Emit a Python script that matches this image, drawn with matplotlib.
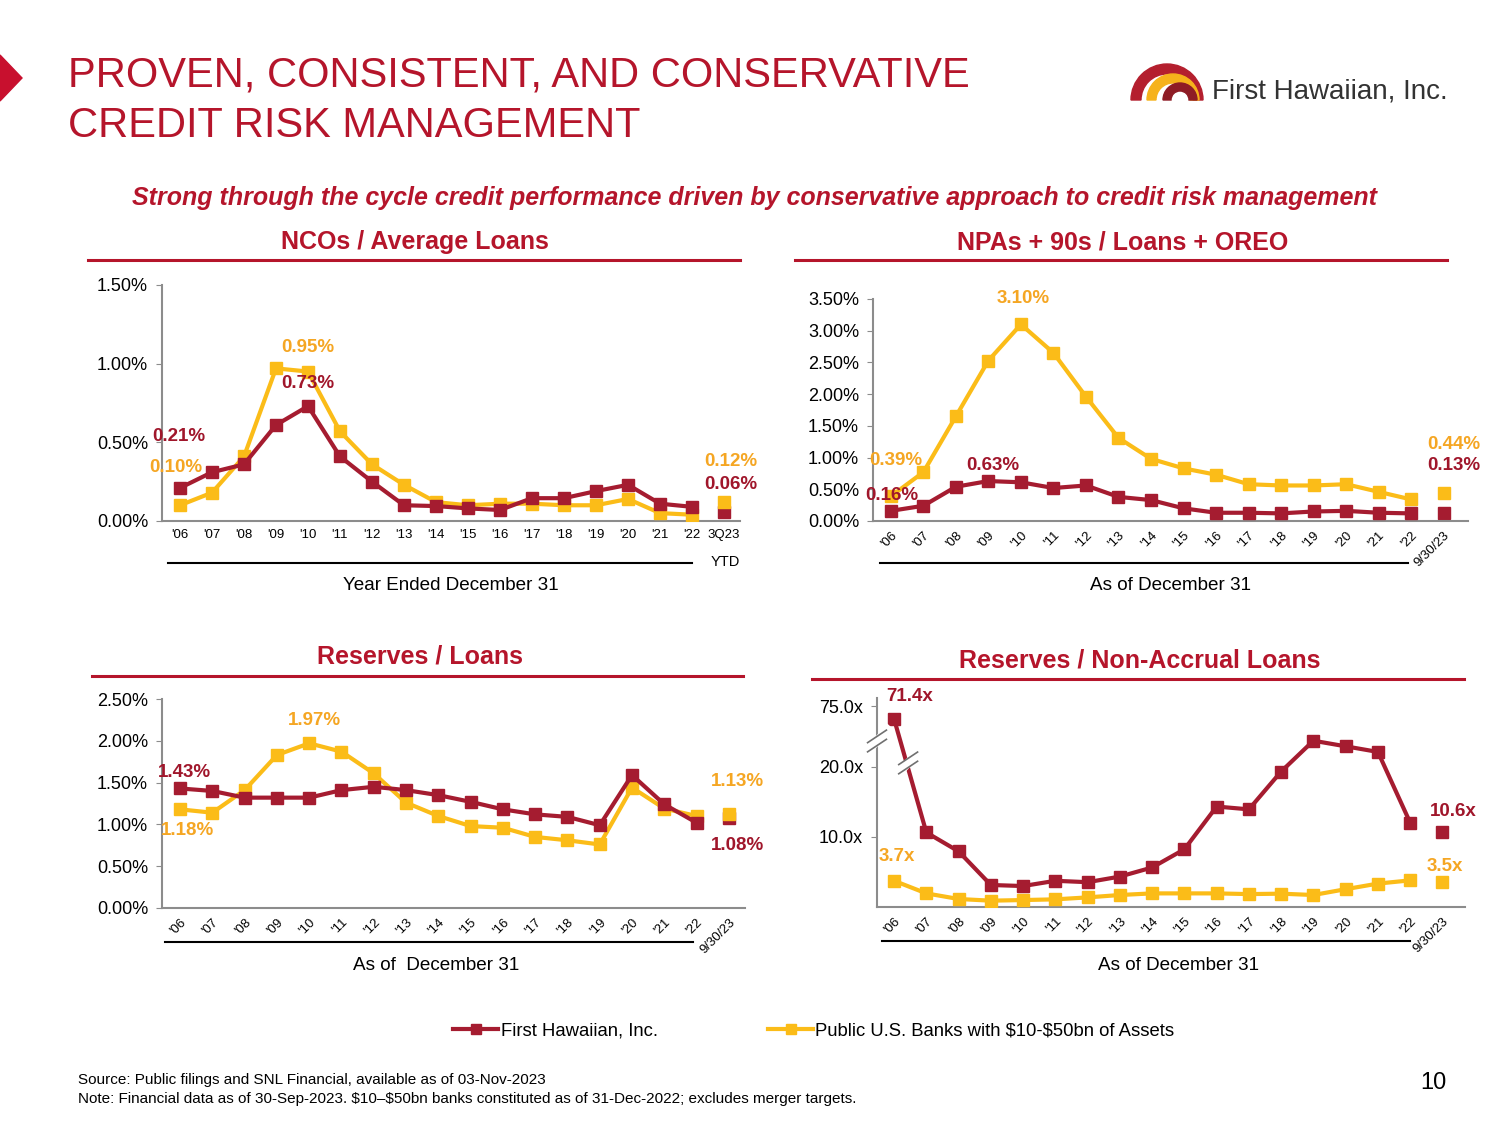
import numpy as np
import matplotlib
matplotlib.use("Agg")
import matplotlib.pyplot as plt
from matplotlib.lines import Line2D
from matplotlib.patches import Polygon, Wedge

plt.rcParams["font.family"] = ["Liberation Sans", "DejaVu Sans"]

RED = "#A51C30"
YEL = "#FBBC18"
RED_TXT = "#A0162B"
YEL_TXT = "#F5A623"
TITLE_RED = "#B5152B"
GRAY = "#8C8C8C"

# ---- data ----
years = ["'06", "'07", "'08", "'09", "'10", "'11", "'12", "'13", "'14",
         "'15", "'16", "'17", "'18", "'19", "'20", "'21", "'22"]
nco_labels = years + ["3Q23"]
asof_labels = years + ["9/30/23"]

nco_fhi = [0.21, 0.31, 0.36, 0.61, 0.73, 0.41, 0.25, 0.10, 0.095, 0.08, 0.07,
           0.145, 0.145, 0.19, 0.23, 0.11, 0.09, 0.06]
nco_peer = [0.10, 0.18, 0.41, 0.97, 0.95, 0.57, 0.36, 0.23, 0.12, 0.10, 0.11,
            0.11, 0.10, 0.10, 0.14, 0.05, 0.04, 0.12]

npa_fhi = [0.16, 0.24, 0.54, 0.63, 0.61, 0.52, 0.56, 0.38, 0.33, 0.20, 0.13,
           0.13, 0.12, 0.15, 0.16, 0.13, 0.12, 0.13]
npa_peer = [0.39, 0.77, 1.65, 2.53, 3.10, 2.65, 1.96, 1.31, 0.98, 0.83, 0.73,
            0.58, 0.56, 0.56, 0.58, 0.46, 0.34, 0.44]

res_fhi = [1.43, 1.40, 1.32, 1.32, 1.32, 1.41, 1.45, 1.41, 1.35, 1.27, 1.18,
           1.12, 1.09, 0.99, 1.59, 1.24, 1.02, 1.08]
res_peer = [1.18, 1.14, 1.41, 1.83, 1.97, 1.87, 1.61, 1.26, 1.10, 0.98, 0.96,
            0.85, 0.81, 0.76, 1.44, 1.19, 1.10, 1.13]

nal_fhi = [71.4, 10.6, 7.9, 3.1, 2.95, 3.7, 3.5, 4.3, 5.6, 8.2, 14.3, 13.9,
           19.3, 23.7, 22.9, 22.1, 12.0, 10.6]
nal_peer = [3.7, 1.9, 1.1, 0.86, 0.95, 1.05, 1.33, 1.67, 1.9, 1.9, 1.9, 1.8,
            1.86, 1.67, 2.5, 3.3, 3.76, 3.5]

W, H = 1500, 1125
fig = plt.figure(figsize=(15, 11.25), dpi=100)


def fx(x):
    return x / W


def fy(y):
    return 1 - y / H


def ftext(x, y, s, **kw):
    fig.text(fx(x), fy(y), s, **kw)


def fline(x0, x1, y, color="black", lw=1.5):
    fig.add_artist(Line2D([fx(x0), fx(x1)], [fy(y), fy(y)], color=color, lw=lw))


def make_ax(left, top, right, bottom):
    ax = fig.add_axes([fx(left), fy(bottom), fx(right - left), (bottom - top) / H])
    for s in ["top", "right"]:
        ax.spines[s].set_visible(False)
    for s in ["left", "bottom"]:
        ax.spines[s].set_color(GRAY)
        ax.spines[s].set_linewidth(1.5)
    ax.tick_params(axis="y", length=4, color=GRAY, labelsize=13, pad=6)
    ax.tick_params(axis="x", length=0, labelsize=9.5, pad=6)
    ax.patch.set_alpha(0)
    return ax


def draw_series(ax, fhi, peer):
    n = len(years)
    x = np.arange(len(fhi))
    ax.plot(x[:n], peer[:n], color=YEL, lw=3, marker="s", ms=8, zorder=3)
    ax.plot(x[n:], peer[n:], color=YEL, lw=0, marker="s", ms=8, zorder=3)
    ax.plot(x[:n], fhi[:n], color=RED, lw=3, marker="s", ms=8, zorder=4)
    ax.plot(x[n:], fhi[n:], color=RED, lw=0, marker="s", ms=8, zorder=2)


def label(ax, i, v, s, dx, dy, color):
    ax.annotate(s, xy=(i, v), xytext=(dx, dy), textcoords="offset pixels",
                ha="center", va="center", fontsize=13.5, fontweight="bold",
                color=color, zorder=6)


def pct(v):
    return f"{v:.2f}%"


def rot_labels(ax, labels):
    ax.set_xticks(range(len(labels)))
    ax.set_xticklabels(labels, rotation=45, ha="right", va="top",
                       rotation_mode="anchor", fontsize=9.5)


# ---- header ----
fig.add_artist(Polygon([[fx(0), fy(55)], [fx(22), fy(78)], [fx(0), fy(101)]],
                       closed=True, color="#C8102E", transform=fig.transFigure))
ftext(68, 76, "PROVEN, CONSISTENT, AND CONSERVATIVE", fontsize=30,
      color=TITLE_RED, va="center")
ftext(68, 126, "CREDIT RISK MANAGEMENT", fontsize=30, color=TITLE_RED, va="center")

logo = fig.add_axes([fx(1128), fy(104), fx(80), 42 / H])
logo.set_xlim(1128, 1208)
logo.set_ylim(0, 42)
logo.set_aspect("equal")
logo.axis("off")
logo.add_patch(Wedge((1167, 4), 36, 0, 180, width=10, color="#B41F2E"))
logo.add_patch(Wedge((1173, 4), 26, 0, 180, width=9, color="#F6B21B"))
logo.add_patch(Wedge((1180, 4), 17, 0, 180, width=8, color="#8E1C25"))
ftext(1212, 92, "First Hawaiian, Inc.", fontsize=20, color="#333333",
      va="center")

ftext(755, 198, "Strong through the cycle credit performance driven by conservative "
      "approach to credit risk management", fontsize=18, color=TITLE_RED,
      ha="center", va="center", fontweight="bold", style="italic")

# panel titles
for cx, cy, ly, x0, x1, t in [(415, 242, 260, 88, 740, "NCOs / Average Loans"),
                              (1123, 242, 260, 795, 1447, "NPAs + 90s / Loans + OREO"),
                              (420, 657, 676, 92, 743, "Reserves / Loans"),
                              (1140, 660, 679, 812, 1464, "Reserves / Non-Accrual Loans")]:
    ftext(cx, cy, t, fontsize=18, color=TITLE_RED, ha="center", va="center",
          fontweight="bold")
    fline(x0, x1, ly, color=TITLE_RED, lw=2.2)

# ---- panel 1: NCOs ----
ax1 = make_ax(162, 285, 740, 521)
draw_series(ax1, nco_fhi, nco_peer)
ax1.set_xlim(-0.5625, 17.5)
ax1.set_ylim(0, 1.5)
ax1.set_yticks([0, 0.5, 1.0, 1.5])
ax1.set_yticklabels([pct(v) for v in [0, 0.5, 1.0, 1.5]])
ax1.set_xticks(range(len(nco_labels)))
ax1.set_xticklabels(nco_labels, fontsize=9.5)
label(ax1, 0, nco_fhi[0], pct(nco_fhi[0]), -1, 51, RED_TXT)
label(ax1, 0, nco_peer[0], pct(nco_peer[0]), -4, 38, YEL_TXT)
label(ax1, 4, nco_peer[4], pct(nco_peer[4]), 0, 24, YEL_TXT)
label(ax1, 4, nco_fhi[4], pct(nco_fhi[4]), 0, 23, RED_TXT)
label(ax1, 17, nco_peer[17], pct(nco_peer[17]), 7, 41, YEL_TXT)
label(ax1, 17, nco_fhi[17], pct(nco_fhi[17]), 7, 27, RED_TXT)
fline(168, 692, 563)
ftext(725, 562, "YTD", fontsize=10.5, ha="center", va="center")
ftext(451, 586, "Year Ended December 31", fontsize=13.6, ha="center", va="center")

# ---- panel 2: NPAs ----
ax2 = make_ax(873, 299, 1468, 521)
draw_series(ax2, npa_fhi, npa_peer)
ax2.set_xlim(-0.55, 17.75)
ax2.set_ylim(0, 3.5)
t2 = np.arange(0, 3.51, 0.5)
ax2.set_yticks(t2)
ax2.set_yticklabels([pct(v) for v in t2])
rot_labels(ax2, asof_labels)
label(ax2, 4, npa_peer[4], pct(npa_peer[4]), 2, 26, YEL_TXT)
label(ax2, 0, npa_peer[0], pct(npa_peer[0]), 5, 36, YEL_TXT)
label(ax2, 0, npa_fhi[0], pct(npa_fhi[0]), 1, 15, RED_TXT)
label(ax2, 3, npa_fhi[3], pct(npa_fhi[3]), 4, 16, RED_TXT)
label(ax2, 17, npa_peer[17], pct(npa_peer[17]), 10, 49, YEL_TXT)
label(ax2, 17, npa_fhi[17], pct(npa_fhi[17]), 10, 47, RED_TXT)
fline(880, 1408, 563)
ftext(1171, 586, "As of December 31", fontsize=13.6, ha="center", va="center")

# ---- panel 3: Reserves / Loans ----
ax3 = make_ax(162, 699, 745, 908)
draw_series(ax3, res_fhi, res_peer)
ax3.set_xlim(-0.56, 17.5)
ax3.set_ylim(0, 2.5)
t3 = np.arange(0, 2.51, 0.5)
ax3.set_yticks(t3)
ax3.set_yticklabels([pct(v) for v in t3])
rot_labels(ax3, asof_labels)
label(ax3, 4, res_peer[4], pct(res_peer[4]), 5, 23, YEL_TXT)
label(ax3, 0, res_fhi[0], pct(res_fhi[0]), 4, 16, RED_TXT)
label(ax3, 0, res_peer[0], pct(res_peer[0]), 7, -21, YEL_TXT)
label(ax3, 17, res_peer[17], pct(res_peer[17]), 9, 32, YEL_TXT)
label(ax3, 17, res_fhi[17], pct(res_fhi[17]), 9, -28, RED_TXT)
fline(165, 693, 942)
ftext(436, 966, "As of  December 31", fontsize=13.6, ha="center", va="center")


# ---- panel 4: Reserves / Non-Accrual Loans (broken axis) ----
def brk_fwd(v):
    v = np.asarray(v, dtype=float)
    return np.where(v <= 25, v,
                    np.where(v <= 70, 25 + (v - 25) * 1.1 / 45, 26.1 + (v - 70) * 0.5))


def brk_inv(u):
    u = np.asarray(u, dtype=float)
    return np.where(u <= 25, u,
                    np.where(u <= 26.1, 25 + (u - 25) * 45 / 1.1, 70 + (u - 26.1) / 0.5))


ax4 = make_ax(877, 698, 1465, 906.7)
ax4.set_yscale("function", functions=(brk_fwd, brk_inv))
draw_series(ax4, nal_fhi, nal_peer)
ax4.set_xlim(-0.53, 17.7)
ax4.set_ylim(0, 77.4)
ax4.set_yticks([10, 20, 75])
ax4.set_yticklabels(["10.0x", "20.0x", "75.0x"])
ax4.yaxis.set_minor_locator(matplotlib.ticker.NullLocator())
rot_labels(ax4, asof_labels)
label(ax4, 0, nal_fhi[0], f"{nal_fhi[0]:.1f}x", 16, 23, RED_TXT)
label(ax4, 0, nal_peer[0], f"{nal_peer[0]:.1f}x", 3, 24, YEL_TXT)
label(ax4, 17, nal_fhi[17], f"{nal_fhi[17]:.1f}x", 11, 21, RED_TXT)
label(ax4, 17, nal_peer[17], f"{nal_peer[17]:.1f}x", 2, 16, YEL_TXT)

# break marks on axis and on the line
for bx, by in [(0.0, 0.794), (0.053, 0.689)]:
    ax4.plot([bx - 0.018, bx + 0.018], [by - 0.055, by + 0.055], color="white",
             lw=6, transform=ax4.transAxes, clip_on=False, zorder=7)
    for off in (-0.022, 0.022):
        ax4.plot([bx - 0.016, bx + 0.016], [by - 0.03 + off, by + 0.03 + off],
                 color="#707070", lw=1.2, transform=ax4.transAxes,
                 clip_on=False, zorder=8)
fline(882, 1410, 941)
ftext(1178, 966, "As of December 31", fontsize=13.6, ha="center", va="center")

# ---- legend ----
handles = [Line2D([], [], color=RED, lw=3, marker="s", ms=7),
           Line2D([], [], color=YEL, lw=3, marker="s", ms=7)]
fig.legend(handles, ["First Hawaiian, Inc.", "Public U.S. Banks with \\$10-\\$50bn of Assets"],
           loc="center", bbox_to_anchor=(fx(814), fy(1031)), ncol=2, frameon=False,
           fontsize=13.3, handlelength=2.4, handletextpad=0.15, columnspacing=6)

# ---- footer ----
ftext(78, 1080, "Source: Public filings and SNL Financial, available as of 03-Nov-2023",
      fontsize=11, va="center")
ftext(78, 1099, "Note: Financial data as of 30-Sep-2023. \\$10\u2013\\$50bn banks constituted "
      "as of 31-Dec-2022; excludes merger targets.", fontsize=11, va="center")
ftext(1447, 1083, "10", fontsize=17, ha="right", va="center")

fig.savefig("out.png", dpi=100)
